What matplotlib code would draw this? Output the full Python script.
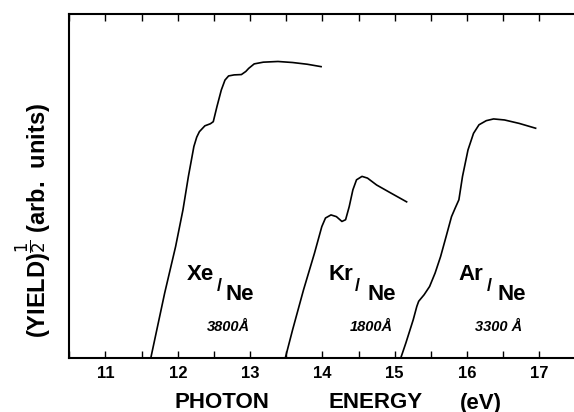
import matplotlib
matplotlib.use("Agg")
import matplotlib.pyplot as plt
from matplotlib.ticker import MultipleLocator

# photon energy (eV) and sqrt(yield) (arb. units)
xe_x = [11.627, 11.642, 11.819, 11.970, 12.072, 12.147, 12.223, 12.262, 12.299,
        12.375, 12.451, 12.491, 12.542, 12.602, 12.653, 12.703, 12.779, 12.880,
        12.941, 12.981, 13.057, 13.183, 13.386, 13.588, 13.790, 13.982]
xe_y = [0.0, 0.15, 1.89, 3.24, 4.31, 5.28, 6.15, 6.42, 6.58,
        6.75, 6.81, 6.87, 7.31, 7.79, 8.08, 8.20, 8.23, 8.24,
        8.33, 8.42, 8.55, 8.60, 8.62, 8.59, 8.54, 8.47]

kr_x = [13.487, 13.588, 13.739, 13.891, 13.992, 14.043, 14.119, 14.194, 14.270,
        14.321, 14.371, 14.422, 14.472, 14.548, 14.624, 14.750, 14.952, 15.165]
kr_y = [0.0, 0.82, 1.98, 3.05, 3.82, 4.07, 4.16, 4.11, 3.97,
        4.02, 4.40, 4.89, 5.18, 5.28, 5.23, 5.03, 4.79, 4.54]

ar_x = [15.084, 15.155, 15.256, 15.306, 15.332, 15.407, 15.483, 15.559, 15.635,
        15.711, 15.786, 15.837, 15.888, 15.938, 16.014, 16.090, 16.166, 16.267,
        16.368, 16.519, 16.722, 16.949]
ar_y = [0.0, 0.44, 1.11, 1.50, 1.65, 1.84, 2.08, 2.47, 2.95,
        3.53, 4.11, 4.36, 4.60, 5.28, 6.05, 6.53, 6.78, 6.90,
        6.95, 6.92, 6.82, 6.68]

ticks = [11, 12, 13, 14, 15, 16, 17]
gases = ["Xe", "Kr", "Ar"]
thickness = ["3800Å", "1800Å", "3300 Å"]

FONT = ["Liberation Sans", "DejaVu Sans"]

fig = plt.figure(figsize=(5.74, 4.12), dpi=100)
ax = fig.add_axes([0.120, 0.131, 0.880, 0.835])

for xs, ys in [(xe_x, xe_y), (kr_x, kr_y), (ar_x, ar_y)]:
    ax.plot(xs, ys, color="black", lw=1.2)

ax.set_xlim(10.494, 17.48)
ax.set_ylim(0, 10)

ax.spines["right"].set_visible(False)
for s in ["left", "top", "bottom"]:
    ax.spines[s].set_linewidth(1.5)

ax.set_xticks(ticks)
ax.set_xticklabels([str(t) for t in ticks], fontsize=12, fontweight="bold",
                   family=FONT)
ax.xaxis.set_minor_locator(MultipleLocator(0.5))
ax.tick_params(axis="x", which="both", direction="in", top=True, length=5,
               width=1.0, pad=6)
ax.set_yticks([])

# sample labels: (gas start, slash, Ne start, thickness start)
spots = [(12.12, 12.58, 12.66, 12.40),
         (14.08, 14.48, 14.62, 14.38),
         (15.88, 16.31, 16.42, 16.11)]
lab = dict(family=FONT, fontweight="bold", color="black")
for (xg, xs, xn, xt), name, thick in zip(spots, gases, thickness):
    ax.text(xg, 2.42, name, fontsize=16, ha="left", va="center", **lab)
    ax.text(xs, 2.08, "/", fontsize=13, ha="center", va="center", **lab)
    ax.text(xn, 1.85, "Ne", fontsize=16, ha="left", va="center", **lab)
    ax.text(xt, 0.90, thick, fontsize=10.5, ha="left", va="center",
            style="italic", **lab)

for word, xc in [("PHOTON", 222), ("ENERGY", 376), ("(eV)", 481)]:
    fig.text(xc / 574, 1 - 403 / 412, word, ha="center", va="center",
             fontsize=16, fontweight="bold", family=FONT)
fig.text(33 / 574, 1 - 221 / 412, r"(YIELD)$^{\dfrac{1}{2}}$ (arb.  units)",
         rotation=90, ha="center", va="center", fontsize=17, fontweight="bold",
         family=FONT)

fig.savefig("out.png", dpi=100)
